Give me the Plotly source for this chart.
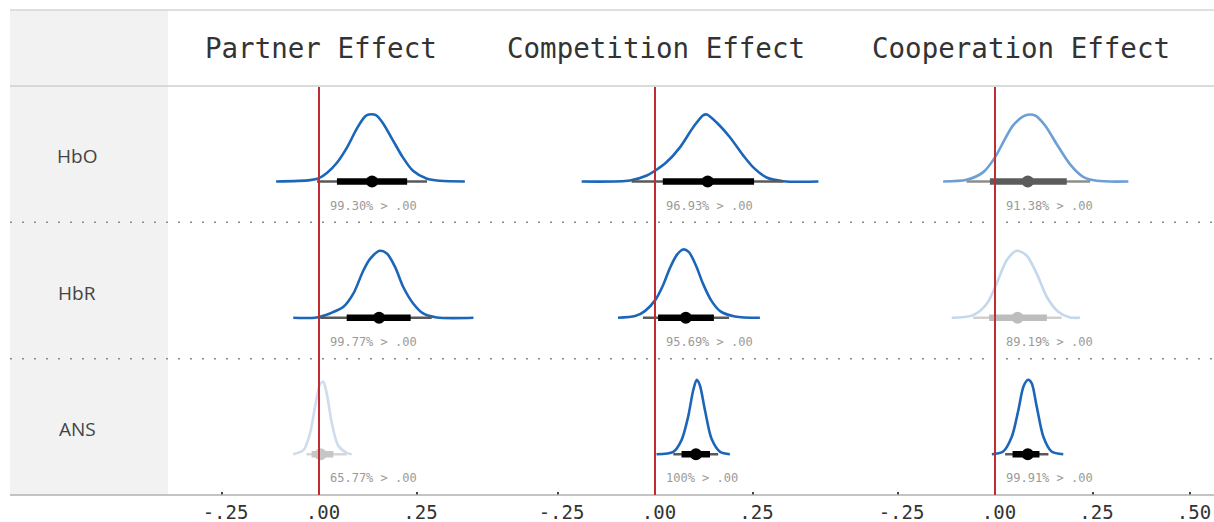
import plotly.graph_objects as go

# ---------------- data ----------------
effects = ["Partner Effect", "Competition Effect", "Cooperation Effect"]
measures = ["HbO", "HbR", "ANS"]

tick_vals = [[-0.25, 0.0, 0.25], [-0.25, 0.0, 0.25], [-0.25, 0.0, 0.25, 0.50]]
tick_text = [["-.25", ".00", ".25"], ["-.25", ".00", ".25"], ["-.25", ".00", ".25", ".50"]]

# posterior density curves (x = effect, d = relative density)
hbo_partner_x = [-0.110, -0.023, 0.000, 0.021, 0.046, 0.072, 0.097, 0.118, 0.128, 0.146, 0.164, 0.190, 0.215, 0.241, 0.277, 0.310, 0.374]
hbo_partner_d = [0.00, 0.02, 0.05, 0.13, 0.28, 0.51, 0.79, 0.97, 1.00, 0.99, 0.87, 0.61, 0.36, 0.16, 0.04, 0.01, 0.00]

hbo_competition_x = [-0.188, -0.064, -0.021, 0.000, 0.030, 0.064, 0.098, 0.124, 0.133, 0.158, 0.192, 0.226, 0.252, 0.286, 0.329, 0.419]
hbo_competition_d = [0.00, 0.015, 0.09, 0.16, 0.29, 0.51, 0.81, 0.99, 1.00, 0.88, 0.66, 0.39, 0.21, 0.06, 0.005, 0.00]

hbo_cooperation_x = [-0.133, -0.073, -0.030, 0.000, 0.026, 0.047, 0.077, 0.103, 0.128, 0.158, 0.192, 0.226, 0.261, 0.342]
hbo_cooperation_d = [0.00, 0.025, 0.14, 0.36, 0.64, 0.84, 0.985, 0.985, 0.84, 0.56, 0.26, 0.07, 0.01, 0.00]

hbr_partner_x = [-0.066, -0.006, 0.028, 0.062, 0.088, 0.114, 0.131, 0.156, 0.174, 0.195, 0.216, 0.242, 0.267, 0.302, 0.396]
hbr_partner_d = [0.00, 0.005, 0.065, 0.16, 0.36, 0.71, 0.88, 1.00, 0.96, 0.76, 0.46, 0.21, 0.065, 0.005, 0.00]

hbr_competition_x = [-0.095, -0.051, -0.026, 0.000, 0.021, 0.038, 0.056, 0.072, 0.087, 0.105, 0.123, 0.144, 0.167, 0.205, 0.269]
hbr_competition_d = [0.00, 0.025, 0.10, 0.26, 0.49, 0.74, 0.94, 1.02, 0.98, 0.78, 0.51, 0.26, 0.10, 0.02, 0.00]

hbr_cooperation_x = [-0.111, -0.056, -0.021, 0.004, 0.030, 0.056, 0.081, 0.107, 0.133, 0.162, 0.192, 0.218]
hbr_cooperation_d = [0.00, 0.04, 0.21, 0.51, 0.86, 1.00, 0.93, 0.66, 0.31, 0.09, 0.005, 0.00]

ans_partner_x = [-0.066, -0.040, -0.023, -0.010, 0.003, 0.011, 0.020, 0.033, 0.049, 0.071, 0.084]
ans_partner_d = [0.00, 0.06, 0.31, 0.71, 1.05, 1.08, 0.90, 0.46, 0.13, 0.02, 0.00]

ans_competition_x = [0.004, 0.047, 0.068, 0.085, 0.098, 0.107, 0.115, 0.128, 0.145, 0.167, 0.192]
ans_competition_d = [0.00, 0.035, 0.21, 0.56, 0.955, 1.11, 1.03, 0.66, 0.23, 0.035, 0.00]

ans_cooperation_x = [-0.008, 0.021, 0.043, 0.060, 0.073, 0.085, 0.094, 0.107, 0.124, 0.145, 0.175]
ans_cooperation_d = [0.00, 0.04, 0.26, 0.66, 1.01, 1.11, 1.06, 0.71, 0.26, 0.04, 0.00]

# interval summaries [row][col]
outer_lo = [[-0.005, -0.060, -0.073], [0.003, -0.031, -0.056], [-0.032, 0.047, 0.026]]
inner_lo = [[0.046, 0.020, -0.013], [0.071, 0.008, -0.015], [-0.019, 0.068, 0.045]]
point_est = [[0.136, 0.135, 0.084], [0.154, 0.079, 0.058], [0.004, 0.105, 0.084]]
inner_hi = [[0.226, 0.254, 0.184], [0.235, 0.151, 0.133], [0.037, 0.141, 0.114]]
outer_hi = [[0.277, 0.329, 0.244], [0.289, 0.190, 0.171], [0.071, 0.162, 0.137]]

prob_positive = [["99.30%", "96.93%", "91.38%"],
                 ["99.77%", "95.69%", "89.19%"],
                 ["65.77%", "100%", "99.91%"]]

density_x = [[hbo_partner_x, hbo_competition_x, hbo_cooperation_x],
             [hbr_partner_x, hbr_competition_x, hbr_cooperation_x],
             [ans_partner_x, ans_competition_x, ans_cooperation_x]]
density_d = [[hbo_partner_d, hbo_competition_d, hbo_cooperation_d],
             [hbr_partner_d, hbr_competition_d, hbr_cooperation_d],
             [ans_partner_d, ans_competition_d, ans_cooperation_d]]

# ---------------- styles ----------------
DARK = dict(slab="#1c66b9", thin="#595959", thick="#000000", pt="#000000")
MID = dict(slab="#6b9fd6", thin="#8c8c8c", thick="#5c5c5c", pt="#5c5c5c")
LIGHT = dict(slab="#c3d7ed", thin="#d0d0d0", thick="#bdbdbd", pt="#bdbdbd")
FAINT = dict(slab="#cfdceb", thin="#d6d6d6", thick="#c6c6c6", pt="#c6c6c6")
cell_style = [[DARK, DARK, MID],
              [DARK, DARK, LIGHT],
              [FAINT, DARK, DARK]]

W, H = 1214, 522
PX_PER_UNIT = 390.0
zero_px = [319, 655, 995]
col_px = [(168, 500), (500, 860), (860, 1214)]
row_px = [(86, 222.3), (222.3, 358.7), (358.7, 495)]
BASE_FROM_TOP = 95.5
UNIT_H = 67.0


def py(p):
    return 1 - p / H


def px(p):
    return p / W


fig = go.Figure()


def axname(i):
    return "" if i == 0 else str(i + 1)


for r in range(3):
    for c in range(3):
        st = cell_style[r][c]
        xa, ya = "x" + axname(c), "y" + axname(r)
        fig.add_trace(go.Scatter(x=density_x[r][c], y=density_d[r][c], mode="lines",
                                 line=dict(color=st["slab"], width=2.6, shape="spline", smoothing=0.8),
                                 xaxis=xa, yaxis=ya, hoverinfo="skip", showlegend=False))
        fig.add_trace(go.Scatter(x=[outer_lo[r][c], outer_hi[r][c]], y=[0, 0], mode="lines",
                                 line=dict(color=st["thin"], width=2.6),
                                 xaxis=xa, yaxis=ya, hoverinfo="skip", showlegend=False))
        fig.add_trace(go.Scatter(x=[inner_lo[r][c], inner_hi[r][c]], y=[0, 0], mode="lines",
                                 line=dict(color=st["thick"], width=6.5),
                                 xaxis=xa, yaxis=ya, hoverinfo="skip", showlegend=False))
        fig.add_trace(go.Scatter(x=[point_est[r][c]], y=[0], mode="markers",
                                 marker=dict(color=st["pt"], size=12, line=dict(width=0)),
                                 xaxis=xa, yaxis=ya, hoverinfo="skip", showlegend=False))
        fig.add_annotation(x=0.023, y=-0.36, xref=xa, yref=ya, xanchor="left", yanchor="middle",
                           text=f"{prob_positive[r][c]} > .00", showarrow=False,
                           font=dict(family="DejaVu Sans Mono", size=12, color="#9a9a9a"))

layout = dict(width=W, height=H, margin=dict(l=0, r=0, t=0, b=0),
              paper_bgcolor="white", plot_bgcolor="rgba(0,0,0,0)", showlegend=False)

for c in range(3):
    x0, x1 = col_px[c]
    rng = [(x0 - zero_px[c]) / PX_PER_UNIT, (x1 - zero_px[c]) / PX_PER_UNIT]
    layout["xaxis" + axname(c)] = dict(
        domain=[px(x0), px(x1)], range=rng, anchor="y3", showgrid=False, zeroline=False,
        showline=False, ticks="inside", ticklen=3, tickwidth=2, tickcolor="#444",
        tickvals=tick_vals[c], ticktext=tick_text[c], ticklabelstandoff=4, ticklabelshift=4,
        tickfont=dict(family="DejaVu Sans Mono", size=19, color="#333"))

for r in range(3):
    top, bot = row_px[r]
    rh = bot - top
    layout["yaxis" + axname(r)] = dict(
        domain=[py(bot), py(top)], range=[-(rh - BASE_FROM_TOP) / UNIT_H, BASE_FROM_TOP / UNIT_H],
        visible=False, anchor="x", showgrid=False, zeroline=False)

fig.update_layout(**layout)

shapes = []
# left label panel
shapes.append(dict(type="rect", xref="paper", yref="paper", x0=px(10), x1=px(168), y0=py(495), y1=py(10),
                   fillcolor="#f2f2f2", line=dict(width=0), layer="below"))
# top line, header line, bottom axis line
shapes.append(dict(type="line", xref="paper", yref="paper", x0=px(10), x1=1, y0=py(10), y1=py(10),
                   line=dict(color="#d4d4d4", width=1.5)))
shapes.append(dict(type="line", xref="paper", yref="paper", x0=px(10), x1=1, y0=py(86), y1=py(86),
                   line=dict(color="#cfcfcf", width=1.5)))
shapes.append(dict(type="line", xref="paper", yref="paper", x0=px(10), x1=1, y0=py(495), y1=py(495),
                   line=dict(color="#b0b0b0", width=1.5)))
# dotted row separators
for p in (row_px[0][1], row_px[1][1]):
    shapes.append(dict(type="line", xref="paper", yref="paper", x0=px(10), x1=1, y0=py(p), y1=py(p),
                       line=dict(color="#8a8a8a", width=1.5, dash="2px,10px")))
# reference lines at zero
for c in range(3):
    shapes.append(dict(type="line", xref="x" + axname(c), yref="paper", x0=0, x1=0,
                       y0=py(495), y1=py(87), line=dict(color="#bf2c34", width=2)))
fig.update_layout(shapes=shapes)

title_px = [321, 656, 1021]
for c in range(3):
    fig.add_annotation(x=px(title_px[c]), y=py(48), xref="paper", yref="paper", showarrow=False,
                       xanchor="center", yanchor="middle", text=effects[c],
                       font=dict(family="DejaVu Sans Mono", size=27.5, color="#333"))

for r in range(3):
    top, bot = row_px[r]
    fig.add_annotation(x=px(77), y=py((top + bot) / 2 + 2), xref="paper", yref="paper", showarrow=False,
                       xanchor="center", yanchor="middle", text=measures[r],
                       font=dict(family="Open Sans", size=19, color="#444"))

fig.write_html("out.html",
               config={"displayModeBar": False, "staticPlot": True},
               post_script="document.body.style.margin='0';document.body.style.overflow='hidden';")
